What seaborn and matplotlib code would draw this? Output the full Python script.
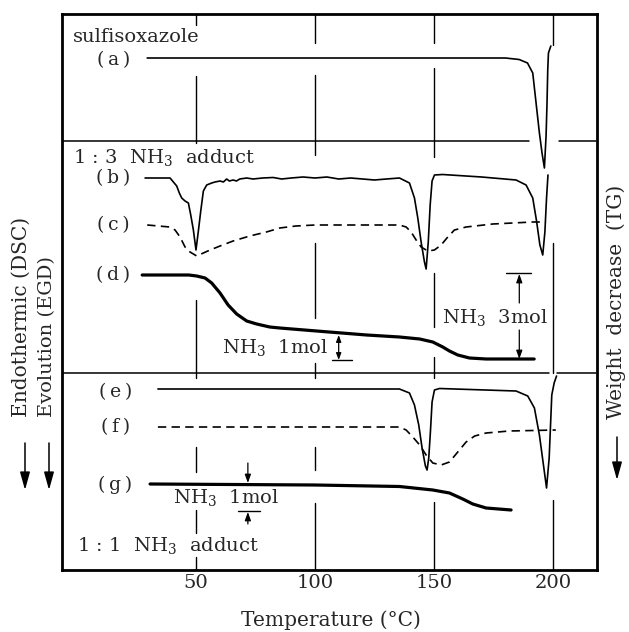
import numpy as np
import pandas as pd
import matplotlib; matplotlib.use("Agg")
import matplotlib.pyplot as plt
from matplotlib.patches import FancyArrowPatch
import seaborn as sns

# ── readings (temperature in °C, signal = deflection from each baseline) ────
a_temp = [29.5, 100, 150, 180, 185.8, 189.3, 191.5, 192.9, 194.3, 195.4, 196.4,
          197.1, 197.5, 197.8, 198.1, 199.1]
a_sig  = [0, 0, 0, 0, -1.5, -5, -15, -45, -75, -95, -110,
          -78, -45, -12, 5, 12]

b_temp = [28.6, 39.1, 40.5, 41.9, 43, 44, 45.4, 46.8, 47.8, 48.9, 50, 51, 52,
          53.1, 54.5, 56.6, 58, 60.1, 61.5, 62.9, 64, 65.6, 67, 68.4, 71.3,
          74, 78, 82.4, 86, 90, 95, 100, 105, 110, 115, 120, 125, 130, 135.5,
          139.7, 141.8, 143.2, 144.6, 146, 146.7, 147.6, 148.4, 149.2, 150.2,
          153.6, 170, 184.5, 188.7, 191.5, 193.1, 194.5, 195.7, 196.6, 197.3,
          197.9]
b_sig  = [0, 0, -4, -8, -15, -20, -23, -25, -37, -52, -72, -53, -33,
          -13, -7, -5, -4, -3, -4, -1, -3, -2, -3, -1, 0,
          -1, 0, 0.5, -1, 0, 1, 0, 1, -1, 0, -1, -2, -1, 0,
          -5, -20, -40, -64, -84, -91, -64, -27, -3, 3,
          3.5, 1, -2, -7, -20, -43, -67, -77, -54, -20,
          3]

c_temp = [29.5, 39, 41.2, 43.3, 45.4, 47.5, 50.3, 53.1, 55.9, 60.1, 65.6, 72.6,
          79.6, 85.2, 92, 100, 135.5, 138.3, 140.4, 142.5, 144.6, 147.4, 150.2,
          153, 155.8, 158.6, 163.5, 174.7, 191.5, 197.1]
c_sig  = [0, -2, -5, -12, -22, -27, -31, -28, -25, -21, -16, -11,
          -7, -3, -1, 0, 0, -2, -7, -15, -22, -26, -25,
          -20, -12, -5, -2, 1, 3, 3]

d_temp = [27.4, 47, 50.3, 53.8, 56.6, 60.1, 63.5, 67.1, 71.3, 75.5, 81, 85.2,
          100.7, 121.7, 135.5, 144, 149.5, 153.7, 156.5, 160, 164.9, 171.9, 192.1]
d_sig  = [0, 0, -1, -3, -8, -18, -30, -39, -46, -49, -52, -53,
          -56, -60, -62, -64, -67, -72, -76, -80, -83, -84, -84]

e_temp = [34, 135.5, 139.7, 141.8, 143.6, 145, 146.4, 147.1, 147.8, 148.5, 149.2,
          150.2, 152.3, 184.5, 189.4, 192.2, 194.3, 196, 197.3, 198.4, 199.1,
          199.5, 200.5, 201.5]
e_sig  = [0, 0, -4, -16, -36, -59, -77, -81, -69, -43, -13,
          -1, 0.5, -2, -7, -19, -46, -76, -99, -69, -29,
          -6, 6, 13]

f_temp = [34, 135.5, 138.3, 141.1, 144, 146.7, 149.5, 153, 156.5, 160, 163.5,
          167.1, 171.9, 181.7, 201.2]
f_sig  = [0, 0, -3, -10, -18, -28, -36, -38, -35, -25, -15,
          -9, -6, -4, -3]

g_temp = [30.7, 100, 135.5, 149.5, 156.5, 162.1, 166.3, 171.9, 182.4]
g_sig  = [0, -1, -2.5, -6, -9, -15, -20, -24, -26]

tick_temps  = [50, 100, 150, 200]
tick_labels = ["50", "100", "150", "200"]

# ── layout: picture is 629x632 px, y measured in px from top ───────────────
W, H = 629, 632
AX_L, AX_R, AX_T, AX_B = 62, 597, 14, 570
T_MIN, T_MAX = -6.3, 218.5
FS = 13.5


def yd(px):
    # px from top of picture -> data y
    return AX_B - px


def tpx(x):
    return 50 + (x - 196) / 2.385


# curve name -> (temps, signal, baseline px, style)
curves = {
    "a": (a_temp, a_sig, 58, "thin"),
    "b": (b_temp, b_sig, 178, "thin"),
    "c": (c_temp, c_sig, 225, "dash"),
    "d": (d_temp, d_sig, 275, "thick"),
    "e": (e_temp, e_sig, 389, "thin"),
    "f": (f_temp, f_sig, 427, "dash"),
    "g": (g_temp, g_sig, 484, "thick"),
}
styles = {"thin": dict(lw=1.2), "thick": dict(lw=2.3),
          "dash": dict(lw=1.2, dashes=(5, 3.2))}
label_x = {"a": 113, "b": 113, "c": 113, "d": 113, "e": 115, "f": 115, "g": 115}
label_dy = {"a": 2, "b": 0, "c": 0, "d": 0, "e": 3, "f": 0, "g": 1}

# broken vertical guide lines (px from top)
guides = {
    50:  [(14, 25), (76, 143), (300, 378), (447, 472), (510, 533), (557, 570)],
    100: [(14, 43), (75, 155), (243, 318), (363, 378), (447, 470), (503, 570)],
    150: [(14, 43), (68, 157), (273, 327), (357, 378), (502, 570)],
    200: [(14, 45), (243, 373), (500, 570)],
}
dividers = {141: [(AX_L, 530), (560, AX_R)], 373: [(AX_L, 550), (558, AX_R)]}

sns.set_style("white")
plt.rcParams.update({
    "font.family": ["DejaVu Serif"],
    "mathtext.fontset": "dejavuserif",
    "axes.edgecolor": "black",
})

fig = plt.figure(figsize=(W / 100, H / 100), dpi=100)
ax = fig.add_axes([AX_L / W, 1 - AX_B / H, (AX_R - AX_L) / W, (AX_B - AX_T) / H])
ax.set_xlim(T_MIN, T_MAX)
ax.set_ylim(0, AX_B - AX_T)

for name, (temps, sig, base, st) in curves.items():
    df = pd.DataFrame({"T": temps, "y": yd(base) + np.array(sig, dtype=float)})
    kw = styles[st]
    sns.lineplot(data=df, x="T", y="y", ax=ax, color="black",
                 lw=kw["lw"], sort=False, estimator=None)
    ln = ax.lines[-1]
    ln.set_solid_joinstyle("round")
    if "dashes" in kw:
        ln.set_dashes(kw["dashes"])
    ax.text(tpx(label_x[name]), yd(base + label_dy[name]),
            f"(\u2009{name}\u2009)", ha="center", va="center", fontsize=FS)

for t, segs in guides.items():
    for y0, y1 in segs:
        ax.plot([t, t], [yd(y0), yd(y1)], color="black", lw=1.0)
for ypx, segs in dividers.items():
    for x0, x1 in segs:
        ax.plot([tpx(x0), tpx(x1)], [yd(ypx), yd(ypx)], color="black", lw=1.1)

# panel titles
ax.text(tpx(73), yd(37), "sulfisoxazole", ha="left", va="center", fontsize=14)
ax.text(tpx(73), yd(157), "1 : 3  NH$_3$  adduct", ha="left", va="center", fontsize=14)
ax.text(tpx(77), yd(545), "1 : 1  NH$_3$  adduct", ha="left", va="center", fontsize=14)

# NH3 3mol annotation
arr = dict(arrowstyle="-|>,head_length=0.5,head_width=0.18", color="black", lw=0.9,
           shrinkA=0, shrinkB=0)
ax.plot([tpx(507), tpx(532)], [yd(273), yd(273)], color="black", lw=1.0)
ax.annotate("", xy=(tpx(520), yd(274)), xytext=(tpx(520), yd(303)), arrowprops=arr)
ax.annotate("", xy=(tpx(520), yd(359)), xytext=(tpx(520), yd(330)), arrowprops=arr)
ax.text(tpx(496), yd(317), "NH$_3$  3mol", ha="center", va="center", fontsize=14)

# NH3 1mol (1:3 adduct)
ax.plot([tpx(332), tpx(352)], [yd(360), yd(360)], color="black", lw=1.0)
ax.annotate("", xy=(tpx(339), yd(335)), xytext=(tpx(339), yd(360)),
            arrowprops=dict(arrowstyle="<|-|>,head_length=0.4,head_width=0.15",
                            color="black", lw=0.9, shrinkA=0, shrinkB=0))
ax.text(tpx(275), yd(348), "NH$_3$  1mol", ha="center", va="center", fontsize=14)

# NH3 1mol (1:1 adduct)
ax.annotate("", xy=(tpx(248), yd(483)), xytext=(tpx(248), yd(463)), arrowprops=arr)
ax.plot([tpx(238), tpx(260)], [yd(511), yd(511)], color="black", lw=1.0)
ax.annotate("", xy=(tpx(248), yd(512)), xytext=(tpx(248), yd(524)), arrowprops=arr)
ax.text(tpx(226), yd(497), "NH$_3$  1mol", ha="center", va="center", fontsize=14)

ax.set_xticks(tick_temps)
ax.set_xticklabels(tick_labels, fontsize=14)
ax.set_yticks([])
ax.tick_params(axis="x", length=0, pad=3)
ax.set_xlabel("")
ax.set_ylabel("")
for sp in ax.spines.values():
    sp.set_linewidth(2.0)
    sp.set_visible(True)

fig.text(331 / W, 1 - 620 / H, "Temperature (°C)", ha="center", va="center",
         fontsize=14.5)

# side labels and arrows
fig.text(21 / W, 1 - 417 / H, "Endothermic (DSC)", rotation=90,
         ha="center", va="bottom", fontsize=14.5)
fig.text(47 / W, 1 - 417 / H, "Evolution (EGD)", rotation=90,
         ha="center", va="bottom", fontsize=14)
fig.text(616 / W, 1 - 302 / H, "Weight  decrease  (TG)", rotation=90,
         ha="center", va="center", fontsize=14.5)
for xp, y0, y1 in ((25, 443, 490), (49, 443, 490), (617, 437, 480)):
    fig.add_artist(FancyArrowPatch(
        (xp / W, 1 - y0 / H), (xp / W, 1 - y1 / H), transform=fig.transFigure,
        arrowstyle="-|>,head_length=0.9,head_width=0.25", mutation_scale=12,
        color="black", lw=1.1, shrinkA=0, shrinkB=0))

fig.savefig("out.png", dpi=100, facecolor="white")
